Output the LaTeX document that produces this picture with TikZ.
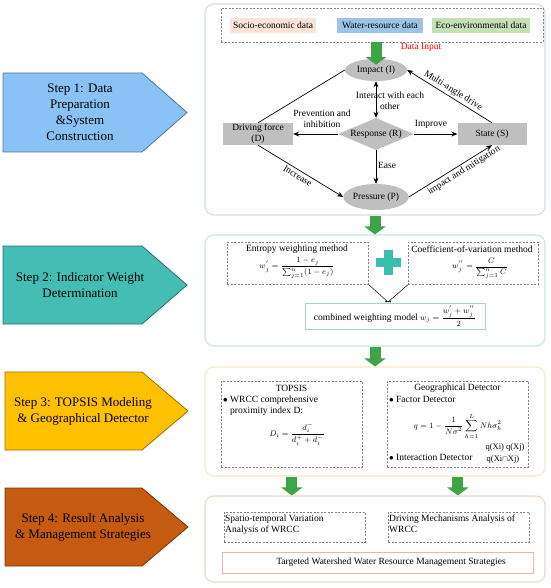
\documentclass[tikz,border=0pt]{standalone}
\usepackage{amsmath}
\usepackage{fontspec}
\setmainfont{Liberation Serif}
\usetikzlibrary{shapes.geometric,arrows.meta}
\definecolor{shapegrey}{HTML}{BFBFBF}
\definecolor{dashgrey}{HTML}{808080}
\definecolor{gArrow}{HTML}{3DA447}
\definecolor{pOne}{HTML}{D3DEEA}
\definecolor{pTwo}{HTML}{C9E7DE}
\definecolor{pThree}{HTML}{F7EAC0}
\definecolor{pFour}{HTML}{F1D8C6}
\definecolor{socio}{HTML}{FBE4D5}
\definecolor{water}{HTML}{9DC3E6}
\definecolor{eco}{HTML}{C5E0B4}
\definecolor{sOne}{HTML}{89C3F6}
\definecolor{sTwo}{HTML}{44BDB4}
\definecolor{sThree}{HTML}{FFC000}
\definecolor{sFour}{HTML}{C55A11}
\definecolor{plusc}{HTML}{3BBFAD}
\definecolor{combc}{HTML}{A6D8B6}
\definecolor{targc}{HTML}{EBB5A3}
\begin{document}
\begin{tikzpicture}[x=1pt,y=-1pt,
  txt/.style={font=\fontsize{9.5}{11}\selectfont, inner sep=0, align=center},
  mth/.style={font=\fontsize{8.5}{10}\selectfont, inner sep=0, align=center},
  gshape/.style={fill=shapegrey, inner sep=0, font=\fontsize{9.5}{11}\selectfont, align=center},
  panel/.style={draw, rounded corners=9pt, line width=1.1pt, inner sep=0},
  dbox/.style={draw=dashgrey, dash pattern=on 2pt off 1.5pt, line width=0.7pt, inner sep=0},
  arr/.style={-{Stealth[length=6pt,width=5pt]}, line width=0.7pt},
  darr/.style={{Stealth[length=6pt,width=5pt]}-{Stealth[length=6pt,width=5pt]}, line width=0.7pt},
  garrow/.style={draw=gArrow, line width=11pt, -{Triangle[length=8pt,width=21pt]}},
  steptext/.style={font=\fontsize{13}{16}\selectfont, align=center, inner sep=0},
  stepshape/.style={line width=0.8pt}
]
\useasboundingbox (0,0) rectangle (550,588);
\fill[white] (0,0) rectangle (550,588);

% ---------- step arrows ----------
\filldraw[stepshape, fill=sOne, draw=sOne!60!black] (3,73) -- (142,73) -- (187,112.5) -- (142,152) -- (3,152) -- cycle;
\node[steptext] (s1) at (80,112) {Step 1: Data\\Preparation\\\&System\\Construction};
\filldraw[stepshape, fill=sTwo, draw=sTwo!60!black] (3,246) -- (142,246) -- (187,285) -- (142,324) -- (3,324) -- cycle;
\node[steptext] (s2) at (80,285) {Step 2: Indicator Weight\\Determination};
\filldraw[stepshape, fill=sThree, draw=sThree!60!black] (5,372) -- (142,372) -- (188,411) -- (142,450) -- (5,450) -- cycle;
\node[steptext] (s3) at (83,411) {Step 3: TOPSIS Modeling\\\& Geographical Detector};
\filldraw[stepshape, fill=sFour, draw=sFour!60!black] (5,488) -- (142,488) -- (188,527) -- (142,566) -- (5,566) -- cycle;
\node[steptext] (s4) at (83,527) {Step 4: Result Analysis\\\& Management Strategies};

% ---------- panels ----------
\node[panel, draw=pOne, minimum width=340, minimum height=211] (p1) at (375,109.5) {};
\node[panel, draw=pTwo, minimum width=340, minimum height=111] (p2) at (375,290.5) {};
\node[panel, draw=pThree, minimum width=340, minimum height=109] (p3) at (375,421.5) {};
\node[panel, draw=pFour, minimum width=340, minimum height=86] (p4) at (375,539) {};

% ---------- panel 1 ----------
\node[dbox, minimum width=322, minimum height=34] (data) at (382,25) {};
\node[txt, fill=socio, minimum width=86, minimum height=15] (so) at (273,25.5) {Socio-economic data};
\node[txt, fill=water, minimum width=86, minimum height=15] (wa) at (380,25.5) {Water-resource data};
\node[txt, fill=eco, minimum width=98, minimum height=15] (ec) at (481,25.5) {Eco-environmental data};

\node[gshape, ellipse, minimum width=62, minimum height=22] (I) at (376,70) {Impact (I)};
\node[gshape, diamond, aspect=2.4, minimum width=76, minimum height=32] (R) at (376,134) {Response (R)};
\node[gshape, minimum width=70, minimum height=22] (D) at (258,134) {Driving force\\(D)};
\node[gshape, minimum width=69, minimum height=22] (S) at (492,134) {State (S)};
\node[gshape, ellipse, minimum width=64, minimum height=26] (P) at (376,197) {Pressure (P)};

\coordinate (a1s) at (I.north |- data.south);
\draw[garrow] (a1s) -- ([yshift=-6pt]I.north);
\node[txt, text=red] (din) at (421,47) {Data Input};

\draw[darr] (I) -- (R);
\node[txt] (lint) at (390,101) {Interact with each\\other};
\draw[arr] (R.west) -- (D.east);
\node[txt] (lprev) at (322,119) {Prevention and\\inhibition};
\draw[arr] (R.east) -- (S.west);
\node[txt] (limp) at (431,124) {Improve};
\draw[arr] (R.south) -- (P.north);
\node[txt] (lease) at (387,165) {Ease};
\draw[arr] (D.south) -- node[txt, sloped, below=2pt, pos=0.5] (lincr) {Increase} (P.west);
\draw[arr] (P.east) -- node[txt, sloped, below=2pt, pos=0.62] (lmit) {impact and mitigation} (S.south);
\draw[line width=0.7pt] (D.north) -- (I.west);
\draw[arr] (S.north) -- node[txt, sloped, above=2pt, pos=0.5] (lmad) {Multi-angle drive} (I.east);

% ---------- panel 2 ----------
\draw[garrow] (p1.south) -- (p2.north);
\node[dbox, minimum width=141, minimum height=42, anchor=north west] (ent) at (227,242) {};
\node[txt] (entt) at (297,249) {Entropy weighting method};
\node[mth] (entf) at (297,268) {$w_j^{'}=\dfrac{1-e_j}{\sum_{j=1}^{n}(1-e_j)}$};
\node[dbox, minimum width=130, minimum height=42, anchor=north west] (cov) at (408,242) {};
\node[txt] (covt) at (472,249) {Coefficient-of-variation method};
\node[mth] (covf) at (480,268) {$w_j^{''}=\dfrac{C}{\sum_{j=1}^{n}C}$};
\fill[plusc] (383.5,250) rectangle (392.5,275);
\fill[plusc] (375.5,258) rectangle (400.5,267);
\coordinate (vtip) at (388,302);
\draw[line width=0.5pt] (ent.south east) -- (vtip);
\draw[line width=0.5pt] (cov.south west) -- (vtip);
\fill (386,301.5) circle (1pt) (390,301.5) circle (1pt);
\node[draw=combc, line width=0.9pt, minimum width=180, minimum height=26, inner sep=0, anchor=north west] (comb) at (305,303) {};
\node[txt] (combt) at (395,316) {combined weighting model {\fontsize{8.5}{10}\selectfont$w_j=\dfrac{w_j^{'}+w_j^{''}}{2}$}};

% ---------- panel 3 ----------
\draw[garrow] (p2.south) -- (p3.north);
\node[dbox, minimum width=141, minimum height=86, anchor=north west] (tb) at (221,381) {};
\node[txt] (tbt) at (291.5,388) {TOPSIS};
\node[txt, align=left, anchor=west] (tb1) at (223,400) {$\bullet$ WRCC comprehensive};
\node[txt, align=left, anchor=west] (tb2) at (230,411) {proximity index D:};
\node[mth] (tbf) at (297,434) {$D_i=\dfrac{d_i^-}{d_i^+ + d_i^-}$};
\node[dbox, minimum width=141, minimum height=86, anchor=north west] (gb) at (387,381) {};
\node[txt] (gbt) at (457.5,388) {Geographical Detector};
\node[txt, anchor=west] (gb1) at (389,399) {$\bullet$ Factor Detector};
\node[mth] (gbf) at (458,426) {$q=1-\dfrac{1}{N\sigma^2}\displaystyle\sum_{h=1}^{L}Nh\sigma_h^2$};
\node[txt, anchor=west] (gb2) at (389,457) {$\bullet$ Interaction Detector};
\node[txt, font=\fontsize{8.5}{10}\selectfont] (gq1) at (505,447) {q(Xi) q(Xj)};
\node[txt, font=\fontsize{8.5}{10}\selectfont] (gq2) at (503,459) {q(Xi$\cap$Xj)};

% ---------- panel 4 ----------
\node[dbox, minimum width=141, minimum height=30, anchor=north west] (sb) at (224,512) {};
\node[dbox, minimum width=141, minimum height=30, anchor=north west] (db) at (388,512) {};
\draw[garrow] (tb.south |- p3.south) -- (tb.south |- p4.north);
\draw[garrow] (gb.south |- p3.south) -- (gb.south |- p4.north);
\node[txt, align=left, anchor=north west] (sbt) at (225,515) {Spatio-temporal Variation\\Analysis of WRCC};
\node[txt, align=left, anchor=north west] (dbt) at (389,515) {Driving Mechanisms Analysis of\\WRCC};
\node[draw=targc, line width=0.8pt, minimum width=311, minimum height=21, inner sep=0, anchor=north west] (tg) at (222,552) {};
\node[txt] (tgt) at (391,562.5) {Targeted Watershed Water Resource Management Strategies};
\end{tikzpicture}
\end{document}
